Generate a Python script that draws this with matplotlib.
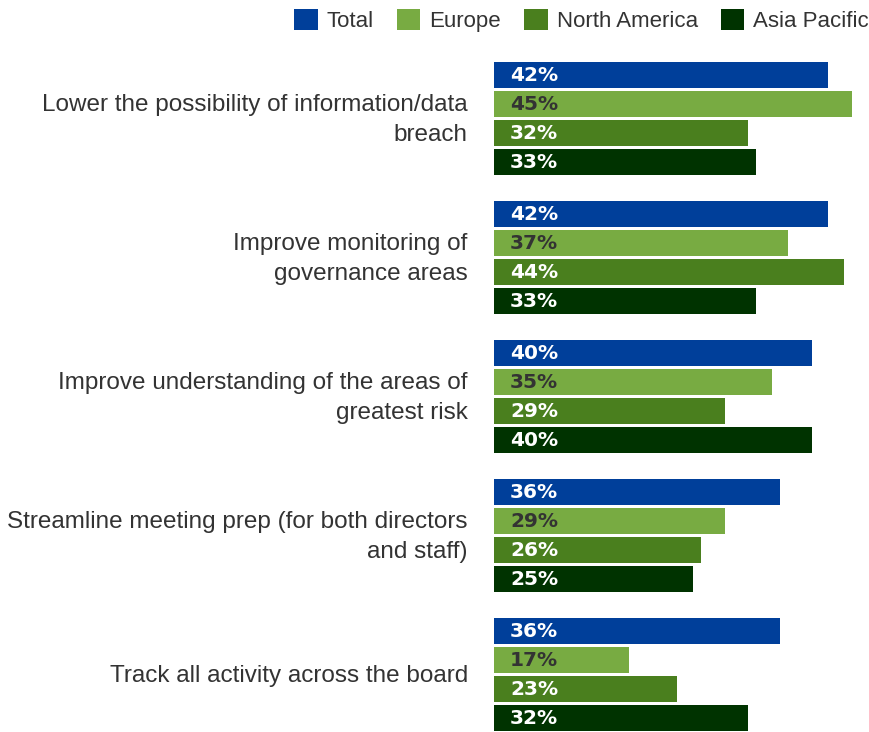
import matplotlib.pyplot as plt

# data
categories = [
    'Lower the possibility of information/data\nbreach',
    'Improve monitoring of\ngovernance areas',
    'Improve understanding of the areas of\ngreatest risk',
    'Streamline meeting prep (for both directors\nand staff)',
    'Track all activity across the board',
]
regions = ['Total', 'Europe', 'North America', 'Asia Pacific']
total = [42, 42, 40, 36, 36]
europe = [45, 37, 35, 29, 17]
north_america = [32, 44, 29, 26, 23]
asia_pacific = [33, 33, 40, 25, 32]

colors = ['#003f9a', '#78ab42', '#4a7f1e', '#003300']
label_colors = ['white', '#333333', 'white', 'white']
series = [total, europe, north_america, asia_pacific]

plt.rcParams['font.family'] = ['Liberation Sans', 'DejaVu Sans']

fig = plt.figure(figsize=(8.69, 7.32), dpi=100)
ax = fig.add_axes([494 / 869, 0, 1 - 494 / 869, 1])

group_step = 139 / 29
for j, (vals, c, lc) in enumerate(zip(series, colors, label_colors)):
    ys = [g * group_step + j for g in range(len(vals))]
    ax.barh(ys, vals, height=0.9, color=c, label=regions[j])
    for y, v in zip(ys, vals):
        ax.text(2.0, y + 0.03, f'{v}%', color=lc, fontsize=14.5, fontweight='bold',
                va='center', ha='left', family='DejaVu Sans')

for g, cat in enumerate(categories):
    ax.text(-3.3, g * group_step + 1.55, cat, ha='right', va='center',
            fontsize=17.5, color='#333333', linespacing=1.5, clip_on=False)

ax.set_xlim(0, (869 - 494) / 7.95)
ax.set_ylim((732 - 75) / 29, -75 / 29)
ax.axis('off')

fig.legend(loc='upper right', bbox_to_anchor=(1.0, 1 - 9 / 732), ncol=4, frameon=False,
           fontsize=16, handlelength=1.05, handleheight=1.05, handletextpad=0.4,
           columnspacing=1.05, borderaxespad=0, borderpad=0, labelcolor='#333333')

fig.savefig('out.png', dpi=100)
